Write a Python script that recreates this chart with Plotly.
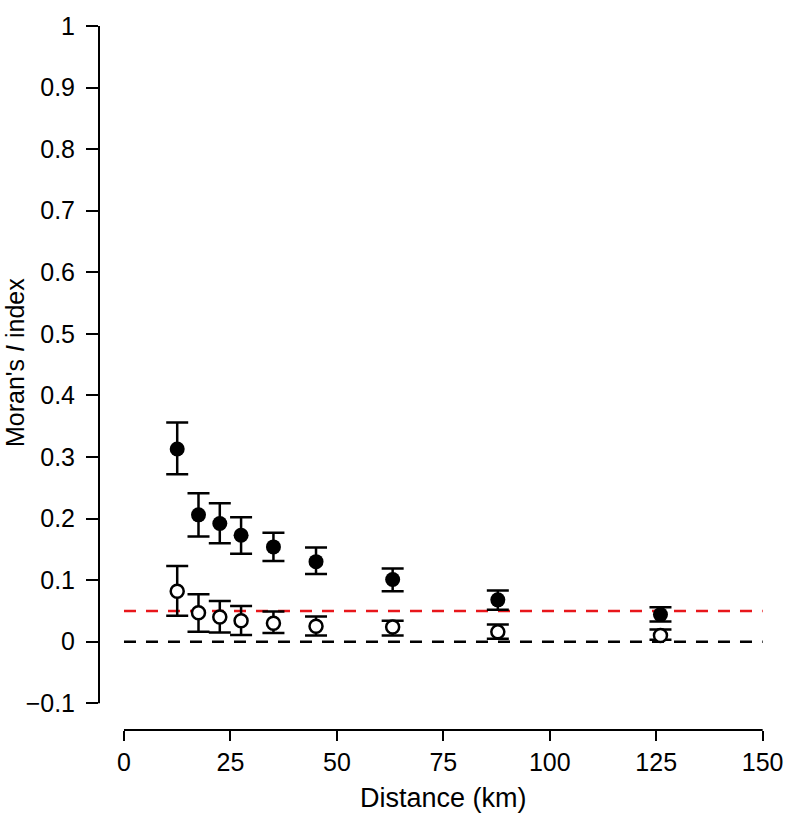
import plotly.graph_objects as go

# Data
distance = [12.5, 17.5, 22.5, 27.5, 35.1, 45.1, 63.1, 87.8, 126.0]
filled_y = [0.313, 0.206, 0.192, 0.173, 0.154, 0.130, 0.101, 0.068, 0.044]
filled_hi = [0.356, 0.241, 0.225, 0.202, 0.177, 0.153, 0.119, 0.083, 0.056]
filled_lo = [0.272, 0.171, 0.160, 0.143, 0.131, 0.110, 0.082, 0.052, 0.033]
open_y = [0.082, 0.047, 0.040, 0.034, 0.030, 0.025, 0.024, 0.016, 0.010]
open_hi = [0.123, 0.077, 0.066, 0.058, 0.049, 0.041, 0.034, 0.028, 0.020]
open_lo = [0.042, 0.016, 0.015, 0.011, 0.014, 0.010, 0.010, 0.005, 0.003]
ref_red = 0.05
ref_black = 0.0
x_ticks = [0, 25, 50, 75, 100, 125, 150]
y_ticks = [-0.1, 0, 0.1, 0.2, 0.3, 0.4, 0.5, 0.6, 0.7, 0.8, 0.9, 1]
y_tick_text = ["\u22120.1", "0", "0.1", "0.2", "0.3", "0.4", "0.5", "0.6", "0.7", "0.8", "0.9", "1"]

FONT = "Liberation Sans, Arial, sans-serif"

fig = go.Figure()

fig.add_trace(go.Scatter(x=[0, 150], y=[ref_black, ref_black], mode="lines",
                         line=dict(color="black", width=2.5, dash="12px,10px"),
                         showlegend=False, hoverinfo="skip"))
fig.add_trace(go.Scatter(x=[0, 150], y=[ref_red, ref_red], mode="lines",
                         line=dict(color="#e8161b", width=2.5, dash="12px,10px"),
                         showlegend=False, hoverinfo="skip"))

def errs(y, hi, lo):
    return [h - v for v, h in zip(y, hi)], [v - l for v, l in zip(y, lo)]

up, dn = errs(filled_y, filled_hi, filled_lo)
fig.add_trace(go.Scatter(
    x=distance, y=filled_y, mode="markers",
    marker=dict(color="black", size=15, line=dict(width=0)),
    error_y=dict(type="data", symmetric=False, array=up, arrayminus=dn,
                 color="black", thickness=2.5, width=11),
    showlegend=False))

up, dn = errs(open_y, open_hi, open_lo)
fig.add_trace(go.Scatter(
    x=distance, y=open_y, mode="markers",
    marker=dict(color="white", size=13, line=dict(color="black", width=2.5)),
    error_y=dict(type="data", symmetric=False, array=up, arrayminus=dn,
                 color="black", thickness=2.5, width=11),
    showlegend=False))

# R-style detached axis lines
fig.add_shape(type="line", xref="paper", yref="y", x0=0, x1=0, y0=-0.1, y1=1,
              line=dict(color="black", width=2))
fig.add_shape(type="line", xref="x", yref="paper", x0=0, x1=150, y0=0, y1=0,
              line=dict(color="black", width=2))

fig.update_xaxes(range=[-5.87, 152.9], tickvals=x_ticks, ticks="outside", ticklen=10,
                 tickwidth=2, tickcolor="black", showline=False, showgrid=False,
                 zeroline=False, automargin=False, ticklabelstandoff=0,
                 tickfont=dict(family=FONT, size=25, color="black"))
fig.update_yaxes(range=[-0.1434, 1.026], tickvals=y_ticks, ticktext=y_tick_text,
                 ticks="outside", ticklen=12, tickwidth=2, tickcolor="black",
                 showline=False, showgrid=False, zeroline=False, automargin=False,
                 ticklabelstandoff=6,
                 tickfont=dict(family=FONT, size=25, color="black"))

fig.add_annotation(text="Distance (km)", xref="x", yref="paper", x=75, y=0,
                   yshift=-68, yanchor="middle", showarrow=False,
                   font=dict(family=FONT, size=27, color="black"))
fig.add_annotation(text="Moran's <i>I</i> index", xref="paper", yref="paper",
                   x=0, xshift=-84, xanchor="center", y=0.5097, yanchor="middle",
                   textangle=-90, showarrow=False,
                   font=dict(family=FONT, size=25, color="black"))

fig.update_layout(width=788, height=815, plot_bgcolor="white", paper_bgcolor="white",
                  margin=dict(l=99, r=13, t=10, b=85))

fig.write_html("out.html", config={"displayModeBar": False},
               post_script="document.body.style.margin='0px';")
